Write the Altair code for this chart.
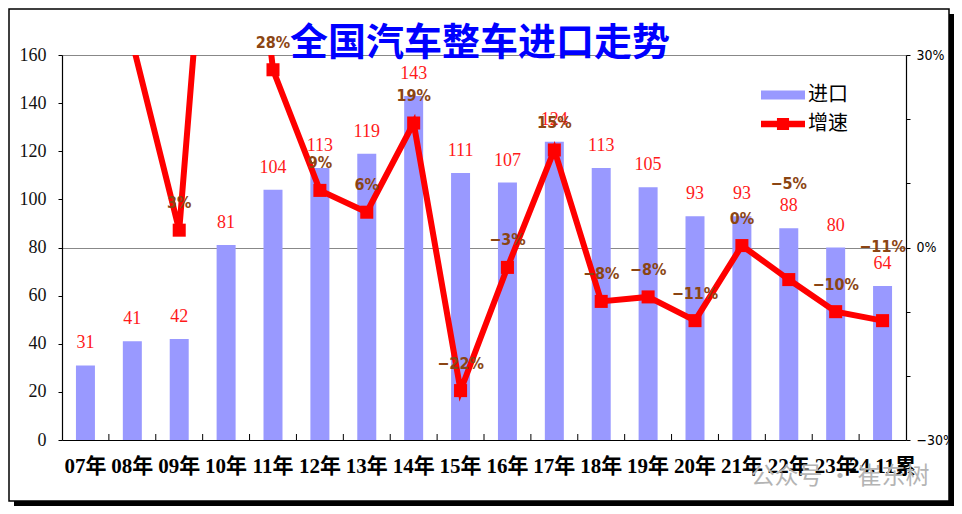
import altair as alt
import pandas as pd

# ---------------- data ----------------
categories = ["07年", "08年", "09年", "10年", "11年", "12年", "13年", "14年", "15年",
              "16年", "17年", "18年", "19年", "20年", "21年", "22年", "23年", "24.11累"]
imports = [31, 41, 42, 81, 104, 113, 119, 143, 111, 107, 124, 113, 105, 93, 93, 88, 80, 64]
growth = [35, 32, 2.7, 93, 27.7, 8.9, 5.5, 19.4, -22.3, -3.1, 15.2, -8.4, -7.7, -11.4, 0.3, -5, -10, -11.4]
left_ticks = [0, 20, 40, 60, 80, 100, 120, 140, 160]
right_ticks = [-30, -20, -10, 0, 10, 20, 30]
series_names = ["进口", "增速"]
title_text = "全国汽车整车进口走势"
watermark_text = "公众号 · 崔东树"

# ---------------- style ----------------
W, H = 844, 385
BAR_COLOR = "#9999FF"
LINE_COLOR = "#FF0000"
BAR_LABEL_COLOR = "#FF1A1A"
GROWTH_LABEL_COLOR = "#8B4513"
SERIF = "Liberation Serif, Noto Sans CJK SC"
NARROW = "Liberation Sans Narrow, DejaVu Sans Condensed, Liberation Sans"
CJK = "Noto Sans CJK SC"

df = pd.DataFrame({"cat": categories, "imports": imports, "growth": growth})
base = alt.Chart(df)

x_axis = alt.Axis(title=None, labelAngle=0, ticks=False, labelFont=SERIF, labelFontSize=21,
                  labelFontWeight="bold", labelColor="#000", labelPadding=15,
                  labelOverlap=False, labelFlush=False, domainColor="#000", domainWidth=1.2)


def x_enc(**kw):
    return alt.X("cat:N", sort=categories,
                 scale=alt.Scale(paddingInner=0, paddingOuter=0), axis=x_axis, **kw)


y_left = alt.Y("imports:Q", scale=alt.Scale(domain=[0, 160], nice=False),
               axis=alt.Axis(title=None, values=left_ticks, grid=False, tickSize=4,
                             tickColor="#000", domainColor="#000", domainWidth=1.2,
                             labelFont=SERIF, labelFontSize=18, labelColor="#111",
                             labelPadding=12))

bars = base.mark_bar(color=BAR_COLOR, width=alt.RelativeBandSize(0.405)).encode(
    x=x_enc(), y=y_left)

bar_labels = base.mark_text(font=SERIF, fontSize=18, color=BAR_LABEL_COLOR, dy=-22,
                            baseline="middle").encode(
    x=x_enc(), y=alt.Y("imports:Q"), text="imports:Q")

tick_df = pd.DataFrame({"cat": categories[1:]})
xticks = alt.Chart(tick_df).mark_rule(color="#000", strokeWidth=1).encode(
    x=x_enc(bandPosition=0), y=alt.value(H - 6), y2=alt.value(H))

one = pd.DataFrame({"k": [0]})
frame = alt.Chart(one).mark_rect(fill="transparent", stroke="#000", strokeWidth=1.5).encode(
    x=alt.value(-53), x2=alt.value(887), y=alt.value(-46), y2=alt.value(446))
shadow_r = alt.Chart(one).mark_rect(color="#000").encode(
    x=alt.value(887), x2=alt.value(892), y=alt.value(-41), y2=alt.value(451))
shadow_b = alt.Chart(one).mark_rect(color="#000").encode(
    x=alt.value(-48), x2=alt.value(892), y=alt.value(446), y2=alt.value(451))
watermark = alt.Chart(one).mark_text(text=watermark_text, font=CJK, fontSize=24,
                                     color="#b4b4b4").encode(
    x=alt.value(778), y=alt.value(422))
title = alt.Chart(one).mark_text(text=title_text, font=CJK, fontSize=38, fontWeight="bold",
                                 color="#0000FF", baseline="middle").encode(
    x=alt.value(418), y=alt.value(-11))

left = alt.layer(frame, shadow_r, shadow_b, bars, bar_labels, xticks, watermark)

# ---------------- right axis (growth) ----------------
grid_cond = {"condition": {"test": "datum.value == 0 || datum.value == 30", "value": 1}, "value": 0}
y_right = alt.Y("growth:Q", scale=alt.Scale(domain=[-30, 30], nice=False),
                axis=alt.Axis(title=None, orient="right", values=right_ticks,
                              labelExpr="datum.value == 30 ? '30%' : datum.value == 0 ? '0%' : datum.value == -30 ? '−30%' : ''",
                              tickSize=4, tickColor="#000", domainColor="#000", domainWidth=1.2,
                              labelFont=NARROW, labelFontSize=14, labelColor="#000",
                              labelPadding=6, grid=True, gridColor="#888888",
                              gridOpacity=grid_cond))

line = base.mark_line(color=LINE_COLOR, strokeWidth=6, clip=True).encode(x=x_enc(), y=y_right)
pts = base.mark_square(color=LINE_COLOR, size=170, opacity=1, clip=True).encode(
    x=x_enc(), y=alt.Y("growth:Q"))

glab = base.transform_calculate(lbl="format(datum.growth, '.0f') + '%'")


def growth_labels(expr, dy):
    return glab.transform_filter(expr).mark_text(
        font=NARROW, fontSize=16, fontWeight="bold", color=GROWTH_LABEL_COLOR,
        dy=dy, baseline="middle").encode(x=x_enc(), y=alt.Y("growth:Q"), text="lbl:N")


gl_main = growth_labels("datum.growth <= 30 && datum.cat != '22年' && datum.cat != '24.11累'", -27)
gl_22 = growth_labels("datum.cat == '22年'", -96)
gl_24 = growth_labels("datum.cat == '24.11累'", -74)

bar_path = "M-2,-0.42H2V0.42H-2Z"
line_path = "M-2,-0.3H2V0.3H-2Z M-0.55,-0.55H0.55V0.55H-0.55Z"
leg = alt.Legend(title=None, orient="none", legendX=710, legendY=29, symbolSize=484,
                 symbolOpacity=1, symbolStrokeWidth=0, labelFont=CJK, labelFontSize=20,
                 labelColor="#000", labelOffset=14, rowPadding=8, padding=0)
leg_df = pd.DataFrame({"series": series_names})
legend_layer = alt.Chart(leg_df).mark_point(filled=True, opacity=0).encode(
    color=alt.Color("series:N", scale=alt.Scale(domain=series_names, range=[BAR_COLOR, LINE_COLOR]), legend=leg),
    shape=alt.Shape("series:N", scale=alt.Scale(domain=series_names, range=[bar_path, line_path]), legend=leg))

right = alt.layer(line, pts, gl_main, gl_22, gl_24, legend_layer, title)

chart = alt.layer(left, right).resolve_scale(y="independent").properties(
    width=W, height=H,
    padding={"left": 54, "top": 47, "right": 48, "bottom": 66},
    autosize=alt.AutoSizeParams(type="none"),
).configure_view(strokeWidth=0).configure(background="#ffffff")

chart.save("out.html", embed_options={"renderer": "svg", "actions": False})
